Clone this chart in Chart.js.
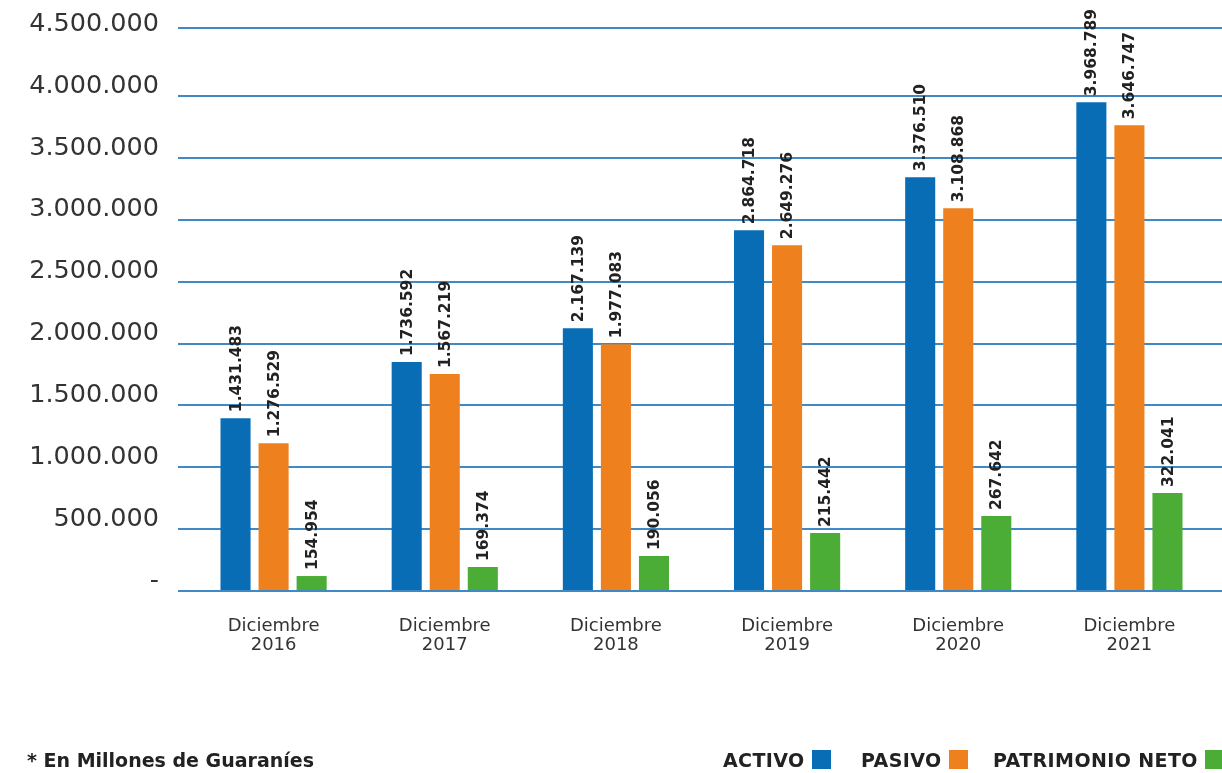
<!DOCTYPE html>
<html lang="es">
<head>
<meta charset="utf-8">
<title>Activo, Pasivo y Patrimonio Neto</title>
<style>
body { margin: 0; background: #fff; overflow: hidden; }
#wrap { position: absolute; left: 0; top: 0; width: 1222px; height: 773px; }
.note { position: absolute; left: 27px; top: 749px; font: bold 19px "DejaVu Sans", sans-serif; line-height: 22px; color: #222; white-space: nowrap; }
.leg { position: absolute; top: 749px; font: bold 19px "DejaVu Sans", sans-serif; line-height: 22px; color: #222; white-space: nowrap; letter-spacing: 0.4px; }
.leg i { display: inline-block; width: 19px; height: 19px; margin-left: 7px; vertical-align: -2px; }
</style>
</head>
<body>
<div id="wrap"><canvas id="balanceChart"></canvas></div>
<div class="note">* En Millones de Guaraníes</div>
<div id="legend"></div>

<script src="https://cdn.jsdelivr.net/npm/chart.js@4.4.1/dist/chart.umd.min.js"></script>
<script>
// categories
const years = ['2016', '2017', '2018', '2019', '2020', '2021'];
const seriesNames = ['ACTIVO', 'PASIVO', 'PATRIMONIO NETO'];
const seriesColors = ['#086db5', '#ef801e', '#4bac36'];

// bar heights as drawn in the picture
const activo     = [1397000, 1850000, 2124000, 2916000, 3344000, 3950000];
const pasivo     = [1195000, 1753000, 1995000, 2795000, 3094000, 3764000];
const patrimonio = [ 121000,  194000,  283000,  468000,  606000,  792000];

// values printed over each bar
const activoLabels     = [1431483, 1736592, 2167139, 2864718, 3376510, 3968789];
const pasivoLabels     = [1276529, 1567219, 1977083, 2649276, 3108868, 3646747];
const patrimonioLabels = [154954, 169374, 190056, 215442, 267642, 322041];

// y axis
const yTicks = [0, 500000, 1000000, 1500000, 2000000, 2500000, 3000000, 3500000, 4000000, 4500000];
const yTop = 4550000;

const gridBlue = '#3f8ac6';

function fmt(n){
    return String(n).replace(/\B(?=(\d{3})+(?!\d))/g, '.');
}

const barLabels = {
    id: 'barLabels',
    afterDatasetsDraw(chart){
        const ctx = chart.ctx;
        const all = [activoLabels, pasivoLabels, patrimonioLabels];
        chart.data.datasets.forEach((ds, i) => {
            chart.getDatasetMeta(i).data.forEach((bar, j) => {
                ctx.save();
                ctx.translate(bar.x, bar.y - 6);
                ctx.rotate(-Math.PI / 2);
                ctx.font = 'bold 15.5px "DejaVu Sans", sans-serif';
                ctx.fillStyle = '#222';
                ctx.textAlign = 'left';
                ctx.textBaseline = 'middle';
                ctx.fillText(fmt(all[i][j]), 0, 1);
                ctx.restore();
            });
        });
    }
};

// grid lines run on to the right edge of the page
const gridToEdge = {
    id: 'gridToEdge',
    beforeDatasetsDraw(chart){
        const ctx = chart.ctx;
        const y = chart.scales.y;
        ctx.save();
        ctx.strokeStyle = gridBlue;
        ctx.lineWidth = 2;
        y.ticks.forEach((t, i) => {
            if (t.value === 4500000) return;
            const py = Math.round(y.getPixelForTick(i));
            ctx.beginPath();
            ctx.moveTo(chart.chartArea.right - 1, py);
            ctx.lineTo(chart.width, py);
            ctx.stroke();
        });
        ctx.restore();
    }
};

const lineColor = (c) => c.tick && c.tick.value === 4500000 ? 'rgba(0,0,0,0)' : gridBlue;

const chart = new Chart(document.getElementById('balanceChart'), {
    type: 'bar',
    data: {
        labels: years.map(y => ['Diciembre', y]),
        datasets: [
            { label: seriesNames[0], data: activo, backgroundColor: seriesColors[0] },
            { label: seriesNames[1], data: pasivo, backgroundColor: seriesColors[1] },
            { label: seriesNames[2], data: patrimonio, backgroundColor: seriesColors[2] }
        ]
    },
    options: {
        responsive: true,
        maintainAspectRatio: false,
        animation: false,
        barPercentage: 0.79,
        categoryPercentage: 0.667,
        layout: { padding: { top: 28, right: 7, bottom: 0, left: 0 } },
        plugins: {
            legend: { display: false },
            tooltip: { enabled: false }
        },
        scales: {
            x: {
                grid: { display: false, drawTicks: false },
                border: { display: false },
                ticks: {
                    color: '#333',
                    padding: 26,
                    maxRotation: 0,
                    font: { family: '"DejaVu Sans", sans-serif', size: 18, lineHeight: 1.05 }
                },
                afterFit: (s) => { s.height = 182; }
            },
            y: {
                min: 0,
                max: yTop,
                afterBuildTicks: (s) => {
                    s.ticks = yTicks.concat([yTop]).map(v => ({ value: v }));
                },
                afterFit: (s) => { s.width = 188; s.paddingTop = 0; s.paddingBottom = 0; },
                grid: {
                    color: lineColor,
                    tickColor: lineColor,
                    lineWidth: 2,
                    drawTicks: true,
                    tickLength: 10
                },
                border: { display: false },
                ticks: {
                    color: '#333',
                    padding: 19,
                    labelOffset: -10,
                    font: { family: '"DejaVu Sans", sans-serif', size: 25.5 },
                    callback: (v) => v === yTop ? '' : (v === 0 ? '-' : fmt(v))
                }
            }
        }
    },
    plugins: [gridToEdge, barLabels]
});

// legend: text first, then colour box
const legendLeft = [723, 861, 993];
const legend = document.getElementById('legend');
seriesNames.forEach((name, i) => {
    const d = document.createElement('div');
    d.className = 'leg';
    d.style.left = legendLeft[i] + 'px';
    d.innerHTML = name + '<i style="background:' + seriesColors[i] + '"></i>';
    legend.appendChild(d);
});
</script>
</body>
</html>
